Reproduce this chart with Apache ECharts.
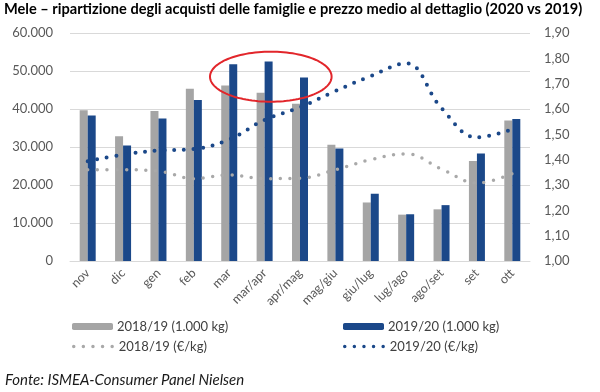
<!DOCTYPE html>
<html>
<head>
<meta charset="utf-8">
<script src="https://cdn.jsdelivr.net/npm/echarts@6/dist/echarts.min.js"></script>
<style>
html,body{margin:0;padding:0;background:#fff;}
#chart{width:600px;height:392px;}
</style>
</head>
<body>
<div id="chart"></div>
<script>
var categories = ['nov','dic','gen','feb','mar','mar/apr','apr/mag','mag/giu','giu/lug','lug/ago','ago/set','set','ott'];
var qty1819 = [39700, 32800, 39500, 45300, 46200, 44300, 41400, 30600, 15400, 12200, 13600, 26300, 37000];
var qty1920 = [38300, 30400, 37500, 42400, 51800, 52500, 48300, 29600, 17700, 12300, 14700, 28300, 37400];
var price1819 = [1.36, 1.36, 1.355, 1.325, 1.34, 1.325, 1.327, 1.36, 1.40, 1.423, 1.363, 1.308, 1.345];
var price1920 = [1.394, 1.42, 1.436, 1.442, 1.48, 1.557, 1.607, 1.671, 1.73, 1.78, 1.603, 1.488, 1.52];
var leftTicks = {min: 0, max: 60000, interval: 10000};
var rightTicks = {min: 1.0, max: 1.9, interval: 0.1};
var names = ['2018/19 (1.000 kg)', '2019/20 (1.000 kg)', '2018/19 (\u20ac/kg)', '2019/20 (\u20ac/kg)'];
var titleText = 'Mele \u2013 ripartizione degli acquisti delle famiglie e prezzo medio al dettaglio (2020 vs 2019)';
var sourceText = 'Fonte: ISMEA-Consumer Panel Nielsen';

var FONT = 'Lato';
var GRAY = '#A5A5A5';
var BLUE = '#1B4889';
var LABEL = '#595959';

function fmtThousands(v) {
  return String(Math.round(v)).replace(/\B(?=(\d{3})+(?!\d))/g, '.');
}

// highlight ellipse (annotation) outline
function ellipsePoints(cx, cy, rx, ry, n) {
  var pts = [];
  for (var i = 0; i < n; i++) {
    var a = 2 * Math.PI * i / n;
    pts.push([cx + rx * Math.cos(a), cy + ry * Math.sin(a)]);
  }
  return pts;
}

var chart = echarts.init(document.getElementById('chart'), null, {renderer: 'canvas'});

function legendItem(name, left, top, isLine, color) {
  var o = {
    data: [name],
    left: left,
    top: top,
    itemWidth: 41,
    itemHeight: isLine ? 8 : 7,
    itemGap: 0,
    padding: 0,
    selectedMode: false,
    textStyle: {fontFamily: FONT, fontSize: 13, color: '#404040', padding: [0, 0, 0, -1]}
  };
  if (isLine) {
    o.itemStyle = {opacity: 0};
    o.lineStyle = {color: color, width: 3.5, type: [0, 9.6], cap: 'round', opacity: 1};
  }
  return o;
}

var option = {
  animation: false,
  backgroundColor: '#fff',
  title: [
    {text: titleText, left: 4, top: 2, padding: 0,
     textStyle: {fontFamily: FONT, fontSize: 14.6, fontWeight: 'bold', color: '#000'}},
    {text: sourceText, left: 5, top: 373, padding: 0,
     textStyle: {fontFamily: FONT, fontSize: 15, fontStyle: 'italic', fontWeight: 'normal', color: '#1a1a1a'}}
  ],
  legend: [
    legendItem(names[0], 72, 320, false),
    legendItem(names[1], 343, 320, false),
    legendItem(names[2], 72, 340, true, '#A9A9A9'),
    legendItem(names[3], 343, 340, true, BLUE)
  ],
  grid: {left: 70, top: 33, width: 460, height: 228, containLabel: false},
  xAxis: {
    type: 'category',
    data: categories,
    boundaryGap: true,
    axisLine: {show: true, lineStyle: {color: '#D9D9D9', width: 1}},
    axisTick: {show: false},
    axisLabel: {rotate: 45, margin: 10, fontFamily: FONT, fontSize: 12.5, color: LABEL, interval: 0}
  },
  yAxis: [
    {
      type: 'value', min: leftTicks.min, max: leftTicks.max, interval: leftTicks.interval,
      axisLine: {show: false}, axisTick: {show: false},
      splitLine: {show: true, lineStyle: {color: '#D9D9D9', width: 1}},
      axisLabel: {margin: 17, fontFamily: FONT, fontSize: 13, color: LABEL, formatter: fmtThousands}
    },
    {
      type: 'value', min: rightTicks.min, max: rightTicks.max, interval: rightTicks.interval,
      axisLine: {show: false}, axisTick: {show: false}, splitLine: {show: false},
      axisLabel: {margin: 14, fontFamily: FONT, fontSize: 13, color: LABEL,
        formatter: function (v) { return v.toFixed(2).replace('.', ','); }}
    }
  ],
  series: [
    {name: names[0], type: 'bar', data: qty1819, barWidth: 8, barGap: '0%', yAxisIndex: 0,
     itemStyle: {color: GRAY}},
    {name: names[1], type: 'bar', data: qty1920, barWidth: 8, barGap: '0%', yAxisIndex: 0,
     itemStyle: {color: BLUE}},
    {name: names[2], type: 'line', data: price1819, yAxisIndex: 1, smooth: 0.4,
     symbol: 'none', showSymbol: false, itemStyle: {color: '#A9A9A9'},
     lineStyle: {color: '#A9A9A9', width: 3.5, type: [0, 9.7], cap: 'round'}},
    {name: names[3], type: 'line', data: price1920, yAxisIndex: 1, smooth: 0.4,
     symbol: 'none', showSymbol: false, itemStyle: {color: BLUE},
     lineStyle: {color: BLUE, width: 4, type: [0, 9.7], cap: 'round'}}
  ],
  graphic: [
    {type: 'polygon', shape: {points: ellipsePoints(270.8, 76.7, 60.8, 25, 120)},
     style: {fill: 'none', stroke: '#E2262B', lineWidth: 2}, z: 100}
  ]
};
chart.setOption(option);
</script>
</body>
</html>
